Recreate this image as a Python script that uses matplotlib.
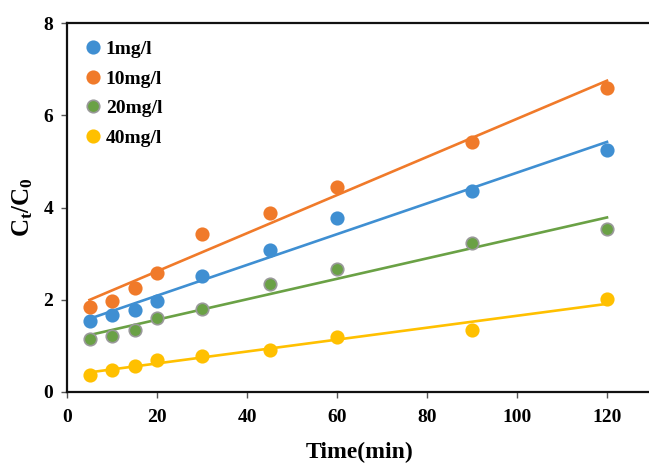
import numpy as np
import matplotlib.pyplot as plt

plt.rcParams['font.family'] = ['Liberation Serif', 'DejaVu Serif']
plt.rcParams['font.weight'] = 'bold'
plt.rcParams['mathtext.fontset'] = 'custom'
plt.rcParams['mathtext.rm'] = 'Liberation Serif:bold'
plt.rcParams['mathtext.it'] = 'Liberation Serif:bold'

# data
time = [5, 10, 15, 20, 30, 45, 60, 90, 120]
c1 = [1.54, 1.67, 1.78, 1.98, 2.52, 3.08, 3.78, 4.36, 5.25]
c10 = [1.84, 1.98, 2.26, 2.59, 3.42, 3.88, 4.45, 5.42, 6.59]
c20 = [1.14, 1.22, 1.34, 1.60, 1.80, 2.35, 2.66, 3.22, 3.54]
c40 = [0.37, 0.48, 0.57, 0.69, 0.78, 0.91, 1.20, 1.34, 2.01]

labels = ['1mg/l', '10mg/l', '20mg/l', '40mg/l']
series = [c1, c10, c20, c40]
colors = ['#3f8fd2', '#f07a2a', '#6aa145', '#ffc000']
edges = ['#3f8fd2', '#f07a2a', '#999999', '#ffc000']

fig = plt.figure(figsize=(6.49, 4.66), dpi=100)
ax = fig.add_axes([67 / 649, 1 - 392 / 466, (652 - 67) / 649, (392 - 23) / 466])

x = np.array(time)
for ys, lab, c, ec in zip(series, labels, colors, edges):
    ax.plot(x, ys, 'o', color=c, mec=ec, mew=1.2, ms=9, label=lab, zorder=3)
    k, b = np.polyfit(x, ys, 1)
    xx = np.array([x.min(), x.max()])
    ax.plot(xx, k * xx + b, '-', color=c, lw=1.9, zorder=2)

ax.set_xlim(0, 130)
ax.set_ylim(0, 8)
ax.set_xticks([0, 20, 40, 60, 80, 100, 120])
ax.set_yticks([0, 2, 4, 6, 8])
ax.tick_params(axis='both', labelsize=14, direction='out', length=4,
               width=1, color='#555555')
ax.tick_params(axis='x', pad=8)
ax.tick_params(axis='y', pad=6)
for lab in ax.get_xticklabels() + ax.get_yticklabels():
    lab.set_fontweight('bold')

ax.spines['right'].set_visible(False)
for s in ['left', 'bottom', 'top']:
    ax.spines[s].set_linewidth(1.6)
    ax.spines[s].set_color('#111111')

ax.set_xlabel('Time(min)', fontsize=17, fontweight='bold', labelpad=12)
ax.set_ylabel(r'C$_\mathrm{t}$/C$_\mathrm{0}$', fontsize=18, fontweight='bold', labelpad=6)

leg = ax.legend(loc='upper left', frameon=False, fontsize=14, handletextpad=0.0,
                handlelength=1.3, labelspacing=0.62, borderaxespad=0.3,
                bbox_to_anchor=(0.0, 0.99), markerscale=1.0)
for t in leg.get_texts():
    t.set_fontweight('bold')

fig.savefig('out.png', dpi=100)
